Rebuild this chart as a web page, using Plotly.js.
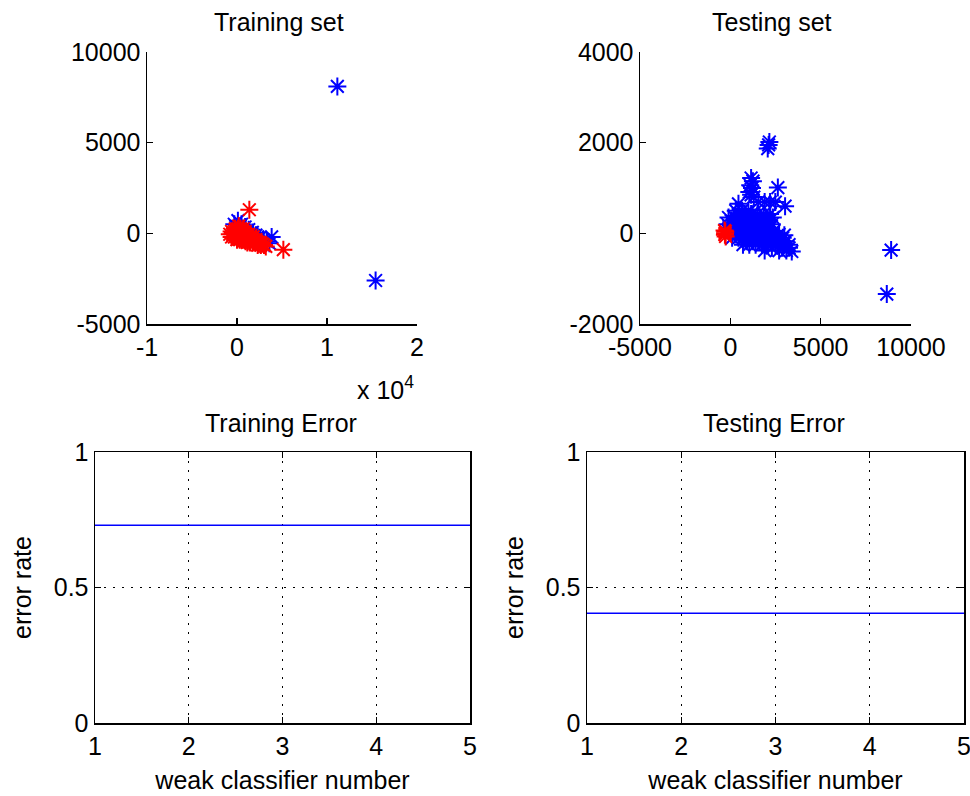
<!DOCTYPE html>
<html>
<head>
<meta charset="utf-8">
<script src="https://cdn.plot.ly/plotly-3.0.1.min.js"></script>
<style>html,body{margin:0;padding:0;background:#fff;}#chart{width:970px;height:796px;}</style>
</head>
<body>
<div id="chart"></div>
<script>
// ---------------- Data ----------------
// Training set, class 1 (blue)
const trainBlueX = [11150, 15400, -300, 100, 500, 900, 1300, 1700, 2100, 2500, 2900, 3300, 3850, 3600, 0, 700, 1500, 2300, 400, 1100];
const trainBlueY = [8100, -2600, 500, 700, 500, 350, 200, 50, -100, -250, -350, -450, -200, -550, 300, 250, 0, -200, 100, 50];
// Training set, class 2 (red)
const trainRedX = [1370, 5150,
  200,
  -200, 100, 400, 700,
  -600, -300, 0, 300, 600, 900,
  -800, -500, -200, 100, 400, 700, 1000, 1300,
  -600, -300, 0, 300, 600, 900, 1200, 1500, 1800,
  0, 300, 600, 900, 1200, 1500, 1800, 2100,
  1150, 1450, 1750, 2050, 2350, 2600,
  2300, 2650, 3000,
  3200,
  -450, -50, 350, 750, 1150, 1550, 150, 550, 950, 1350, 1650, 2000, 2400, 2800];
const trainRedY = [1300, -900,
  400,
  250, 250, 250, 250,
  100, 100, 100, 100, 100, 100,
  -50, -50, -50, -50, -50, -50, -50, -50,
  -200, -200, -200, -200, -200, -200, -200, -200, -200,
  -350, -350, -350, -350, -350, -350, -350, -350,
  -500, -500, -500, -500, -500, -500,
  -650, -650, -650,
  -720,
  20, 170, 170, 20, -120, -120, -280, -280, -430, -430, -280, -430, -580, -580];
// Testing set, class 1 (blue)
const testBlueX = [8900, 8660,
  2160, 2070, 2120,
  1150, 1250, 1100, 1200, 1050, 1150, 1300,
  1550, 1900, 2200, 2490, 2630, 3030, 2990, 450,
  300, 650, 1000,
  -100, 250, 600, 950, 1300, 1650, 2000, 2350,
  -150, 200, 550, 900, 1250, 1600, 1950, 2300,
  -100, 250, 600, 950, 1300, 1650, 2000, 2400,
  100, 450, 800, 1150, 1500, 1850, 2200, 2550, 2900,
  700, 1050, 1400, 1750, 2100, 2500, 2900, 3250,
  1900, 2700, 3100, 3400,
  450, 800, 1150, 1500, 1850, 2200,
  50, 400, 750, 1100, 1450, 1800, 2150,
  0, 400, 750, 1100, 1450, 1800, 2200,
  250, 600, 950, 1300, 1650, 2000, 2350, 2700,
  900, 1250, 1600, 1950, 2300, 2700, 3050,
  2300, 2900, 3250];
const testBlueY = [-370, -1340,
  2015, 1870, 1950,
  1220, 1150, 1060, 1000, 910, 850, 800,
  690, 690, 690, 690, 1010, 600, -40, 650,
  500, 500, 500,
  350, 350, 350, 350, 350, 350, 350, 350,
  200, 200, 200, 200, 200, 200, 200, 200,
  50, 50, 50, 50, 50, 50, 50, 50,
  -100, -100, -100, -100, -100, -100, -100, -100, -100,
  -250, -250, -250, -250, -250, -250, -250, -250,
  -380, -380, -380, -400,
  425, 425, 425, 425, 425, 425,
  275, 275, 275, 275, 275, 275, 275,
  125, 125, 125, 125, 125, 125, 125,
  -25, -25, -25, -25, -25, -25, -25, -25,
  -175, -175, -175, -175, -175, -175, -175,
  -320, -320, -320];
// Testing set, class 2 (red)
const testRedX = [-290, -320, -260, -300, -280];
const testRedY = [0, 60, -70, -30, 40];
// Error curves
const classifierNumber = [1, 2, 3, 4, 5];
const trainError = [0.73, 0.73, 0.73, 0.73, 0.73];
const testError = [0.405, 0.405, 0.405, 0.405, 0.405];
// Tick labels
const trainXTickVals = [-10000, 0, 10000, 20000];
const trainXTickText = ['-1', '0', '1', '2'];
const trainYTickVals = [-5000, 0, 5000, 10000];
const trainYTickText = ['-5000', '0', '5000', '10000'];
const testXTickVals = [-5000, 0, 5000, 10000];
const testXTickText = ['-5000', '0', '5000', '10000'];
const testYTickVals = [-2000, 0, 2000, 4000];
const testYTickText = ['-2000', '0', '2000', '4000'];
const errXTickText = ['1', '2', '3', '4', '5'];
const errTickVals = [0, 0.5, 1];
const errTickText = ['0', '0.5', '1'];

// ---------------- Styling ----------------
const FONT = 'Liberation Sans, Arial, sans-serif';
const FS = 25;
const W = 970, H = 796;
const px = v => v / W;
const py = v => 1 - v / H;

function star(x, y, color, xa, ya) {
  return {
    type: 'scatter', mode: 'markers', x: x, y: y, xaxis: xa, yaxis: ya,
    marker: {symbol: 'asterisk-open', size: 15, color: color, line: {color: color, width: 2}},
    hoverinfo: 'x+y', showlegend: false
  };
}

const baseAxis = {
  showline: true, linecolor: '#000', linewidth: 1.5,
  ticks: 'inside', ticklen: 6, tickcolor: '#000', tickwidth: 1.2,
  zeroline: false, showgrid: false, fixedrange: true, ticklabeloverflow: 'allow',
  tickfont: {family: FONT, size: FS, color: '#000'}
};

const traces = [
  star(trainBlueX, trainBlueY, '#0000ff', 'x', 'y'),
  star(trainRedX, trainRedY, '#ff0000', 'x', 'y'),
  star(testBlueX, testBlueY, '#0000ff', 'x2', 'y2'),
  star(testRedX, testRedY, '#ff0000', 'x2', 'y2'),
  {type: 'scatter', mode: 'lines', x: classifierNumber, y: trainError, xaxis: 'x3', yaxis: 'y3',
   line: {color: '#0000ff', width: 1.5}, showlegend: false},
  {type: 'scatter', mode: 'lines', x: classifierNumber, y: testError, xaxis: 'x4', yaxis: 'y4',
   line: {color: '#0000ff', width: 1.5}, showlegend: false}
];

const topY = [py(324), py(52)];
const botY = [py(723), py(452)];

const errX = Object.assign({}, baseAxis, {
  range: [1, 5], tickvals: classifierNumber, ticktext: errXTickText, mirror: 'ticks',
  showgrid: true, gridcolor: '#000', gridwidth: 1.2, griddash: '1.5px,7.5px',
  title: {text: 'weak classifier number', font: {family: FONT, size: FS, color: '#000'}, standoff: 13}
});
const errY = Object.assign({}, baseAxis, {
  range: [0, 1], tickvals: errTickVals, ticktext: errTickText, mirror: 'ticks',
  showgrid: true, gridcolor: '#000', gridwidth: 1.2, griddash: '1.5px,7.5px',
  title: {text: 'error rate', font: {family: FONT, size: FS, color: '#000'}, standoff: 15}
});

const layout = {
  width: W, height: H,
  margin: {l: 0, r: 0, t: 0, b: 0},
  paper_bgcolor: '#fff', plot_bgcolor: '#fff',
  font: {family: FONT, size: FS, color: '#000'},
  showlegend: false,
  xaxis: Object.assign({}, baseAxis, {domain: [px(147), px(417)], range: [-10000, 20000], tickvals: trainXTickVals, ticktext: trainXTickText, anchor: 'y'}),
  yaxis: Object.assign({}, baseAxis, {domain: topY, range: [-5000, 10000], tickvals: trainYTickVals, ticktext: trainYTickText, anchor: 'x'}),
  xaxis2: Object.assign({}, baseAxis, {domain: [px(640), px(911)], range: [-5000, 10000], tickvals: testXTickVals, ticktext: testXTickText, anchor: 'y2'}),
  yaxis2: Object.assign({}, baseAxis, {domain: topY, range: [-2000, 4000], tickvals: testYTickVals, ticktext: testYTickText, anchor: 'x2'}),
  xaxis3: Object.assign({}, errX, {domain: [px(95), px(470)], anchor: 'y3'}),
  yaxis3: Object.assign({}, errY, {domain: botY, anchor: 'x3'}),
  xaxis4: Object.assign({}, errX, {domain: [px(587), px(964)], anchor: 'y4'}),
  yaxis4: Object.assign({}, errY, {domain: botY, anchor: 'x4'}),
  annotations: [
    {text: 'Training set', xref: 'paper', yref: 'paper', x: px(279), y: py(22), xanchor: 'center', yanchor: 'middle', showarrow: false, font: {family: FONT, size: FS, color: '#000'}},
    {text: 'Testing set', xref: 'paper', yref: 'paper', x: px(772), y: py(22), xanchor: 'center', yanchor: 'middle', showarrow: false, font: {family: FONT, size: FS, color: '#000'}},
    {text: 'Training Error', xref: 'paper', yref: 'paper', x: px(281), y: py(423), xanchor: 'center', yanchor: 'middle', showarrow: false, font: {family: FONT, size: FS, color: '#000'}},
    {text: 'Testing Error', xref: 'paper', yref: 'paper', x: px(774), y: py(423), xanchor: 'center', yanchor: 'middle', showarrow: false, font: {family: FONT, size: FS, color: '#000'}},
    {text: 'x 10<sup>4</sup>', xref: 'paper', yref: 'paper', x: px(355), y: py(388), xanchor: 'left', yanchor: 'middle', showarrow: false, font: {family: FONT, size: FS, color: '#000'}}
  ]
};

Plotly.newPlot('chart', traces, layout, {displayModeBar: false, staticPlot: true});
</script>
</body>
</html>
